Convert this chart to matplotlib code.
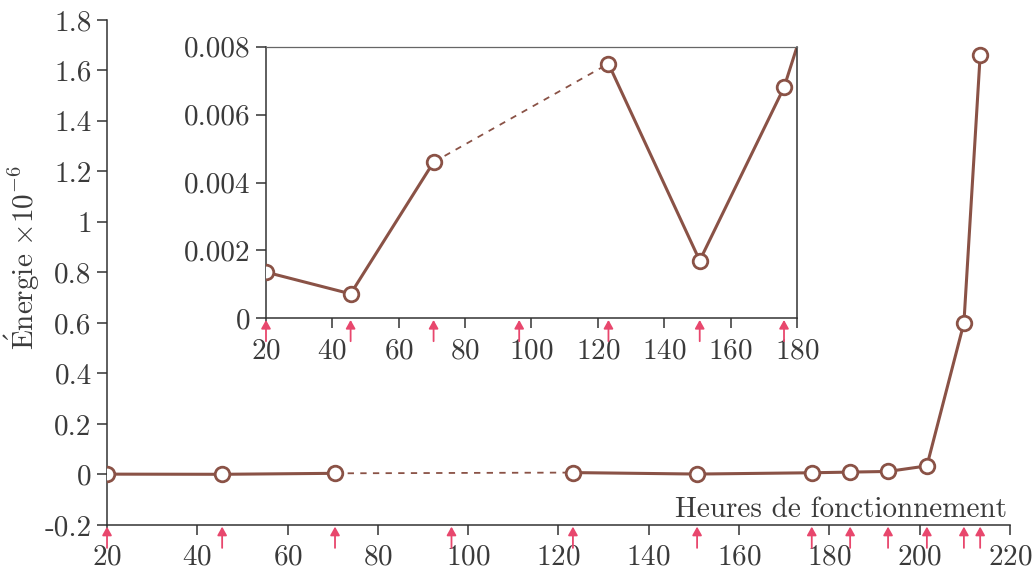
import matplotlib as mpl
import matplotlib.pyplot as plt
import numpy as np

# Data
hours = [20, 45.5, 70.5, 123.2, 150.7, 176.1, 184.6, 193, 201.6, 209.8, 213.4]
energy = [0.00136, 0.00072, 0.0046, 0.0075, 0.0017, 0.0068, 0.0094, 0.012,
          0.034, 0.60, 1.66]
gap_after = 2  # dashed segment between point 2 and point 3 (missing sample)
arrow_hours = [20, 45.5, 70.5, 96.3, 123.2, 150.7, 176.1, 184.6, 193, 201.6,
               209.8, 213.4]

main_xticks = list(range(20, 221, 20))
main_yticks = [-0.2, 0, 0.2, 0.4, 0.6, 0.8, 1, 1.2, 1.4, 1.6, 1.8]
main_ylabels = ["-0.2", "0", "0.2", "0.4", "0.6", "0.8", "1", "1.2", "1.4",
                "1.6", "1.8"]
inset_xticks = list(range(20, 181, 20))
inset_yticks = [0, 0.002, 0.004, 0.006, 0.008]
inset_ylabels = ["0", "0.002", "0.004", "0.006", "0.008"]

line_color = "#8a5246"
arrow_color = "#e8476d"
text_color = "#3a3a3a"
spine_color = "#333333"

mpl.rcParams["font.family"] = "serif"
mpl.rcParams["font.serif"] = ["cmr10"]
mpl.rcParams["mathtext.fontset"] = "cm"
mpl.rcParams["axes.formatter.use_mathtext"] = True
mpl.rcParams["font.size"] = 21


def draw_series(ax, x, y):
    x = np.asarray(x)
    y = np.asarray(y)
    ax.plot(x[: gap_after + 1], y[: gap_after + 1], color=line_color, lw=2.2, zorder=2)
    ax.plot(x[gap_after : gap_after + 2], y[gap_after : gap_after + 2],
            color=line_color, lw=1.3, ls=(0, (3.5, 3.5)), zorder=2)
    ax.plot(x[gap_after + 1 :], y[gap_after + 1 :], color=line_color, lw=2.2, zorder=2)
    ax.plot(x, y, ls="none", marker="o", ms=10.5, mfc="white", mec=line_color,
            mew=2, zorder=3)


def draw_arrows(ax, xs):
    for xv in xs:
        ax.annotate(
            "", xy=(xv, 0), xycoords=("data", "axes fraction"),
            xytext=(0, -16.5), textcoords="offset points",
            arrowprops=dict(arrowstyle="-|>,head_length=0.5,head_width=0.28",
                            color=arrow_color, lw=1.3, shrinkA=0, shrinkB=1.2,
                            mutation_scale=10),
            annotation_clip=False,
        )


def style_axes(ax):
    ax.tick_params(direction="out", length=7, width=1.1, colors=spine_color,
                   labelcolor=text_color)
    ax.tick_params(axis="x", pad=7)
    ax.tick_params(axis="y", pad=4)
    for sp in ax.spines.values():
        sp.set_color(spine_color)
        sp.set_linewidth(1.1)


fig = plt.figure(figsize=(10.35, 5.74), dpi=100)

# --- Main axes ---
ax = fig.add_axes([0.1034, 0.0854, 0.8724, 0.8798])
draw_series(ax, hours, energy)
draw_arrows(ax, arrow_hours)
ax.set_xlim(20, 220)
ax.set_ylim(-0.2, 1.8)
ax.set_xticks(main_xticks)
ax.set_yticks(main_yticks)
ax.set_yticklabels(main_ylabels)
ax.spines["top"].set_visible(False)
ax.spines["right"].set_visible(False)
style_axes(ax)
fig.text(22 / 1035, 1 - 258 / 574, r"$\mathrm{\acute{E}nergie}\ {\times}10^{-6}$",
         rotation=90, ha="center", va="center", color=text_color)
ax.text(0.997, 0.016, "Heures de fonctionnement", transform=ax.transAxes,
        ha="right", va="baseline", color=text_color)

# --- Inset ---
ins = fig.add_axes([0.257, 0.4455, 0.513, 0.4731])
draw_series(ins, hours, energy)
draw_arrows(ins, [h for h in arrow_hours if h <= 180])
ins.set_xlim(20, 180)
ins.set_ylim(0, 0.008)
ins.set_xticks(inset_xticks)
ins.set_yticks(inset_yticks)
ins.set_yticklabels(inset_ylabels)
style_axes(ins)
ins.spines["top"].set_color("#666666")
ins.spines["top"].set_linewidth(0.9)

fig.savefig("out.png", dpi=100)
